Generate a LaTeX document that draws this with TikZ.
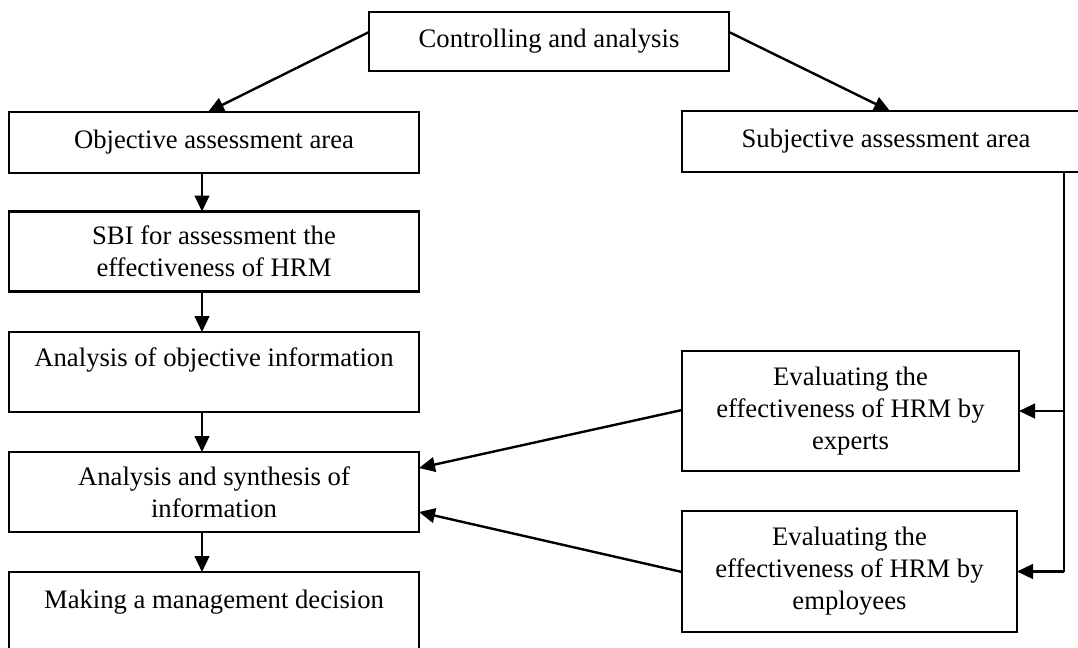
\documentclass[tikz,border=0pt]{standalone}
\usepackage{fontspec}
\setmainfont{Liberation Serif}
\usetikzlibrary{arrows.meta,calc}

\begin{document}
\begin{tikzpicture}[
  x=0.75pt, y=-0.75pt,
  font=\fontsize{20pt}{24pt}\selectfont,
  box/.style={draw=black, line width=1.8pt, inner sep=0pt, outer sep=0pt,
              align=center, fill=white},
  link/.style={line width=1.8pt, -{Triangle[length=12pt,width=11pt]}},
  busline/.style={line width=1.1pt}
]
\useasboundingbox (0,0) rectangle (1078,647);
\clip (0,0) rectangle (1078,647);

% top node
\node[box, minimum width=270pt, minimum height=44.25pt] (ctrl) at (549,41.5)
  {Controlling and analysis};

% left column
\node[box, minimum width=307.5pt, minimum height=45.75pt] (obj) at (214,142.5)
  {Objective assessment area};
\node[box, minimum width=307.5pt, minimum height=60pt] (sbi) at (214,251.5)
  {SBI for assessment the\\effectiveness of HRM};
\node[box, minimum width=307.5pt, minimum height=60pt] (aoi) at (214,372)
  {Analysis of objective information\\[-9pt]\strut};
\node[box, minimum width=307.5pt, minimum height=60pt] (syn) at (214,492)
  {Analysis and synthesis of\\information};
\node[box, minimum width=307.5pt, minimum height=72pt] (dec) at (214,620)
  {Making a management decision\\[0pt]\strut};

% right column
\node[box, minimum width=306pt, minimum height=45.75pt] (subj) at (886,141.5)
  {Subjective assessment area};
\node[box, minimum width=252.75pt, minimum height=90pt] (exp) at (850.5,411)
  {Evaluating the\\effectiveness of HRM by\\experts};
\node[box, minimum width=251.25pt, minimum height=90.75pt] (emp) at (849.5,571.5)
  {Evaluating the\\effectiveness of HRM by\\employees};

% branches from the top node
\draw[link] ($(ctrl.west)+(0,-9.5)$) -- ($(obj.north)+(-6,0)$);
\draw[link] ($(ctrl.east)+(0,-9.5)$) -- ($(subj.north)+(4,0)$);

% left column flow
\draw[link] ($(obj.south)+(-12,0)$) -- ($(sbi.north)+(-12,0)$);
\draw[link] ($(sbi.south)+(-12,0)$) -- ($(aoi.north)+(-12,0)$);
\draw[link] ($(aoi.south)+(-12,0)$) -- ($(syn.north)+(-12,0)$);
\draw[link] ($(syn.south)+(-12,0)$) -- ($(dec.north)+(-12,0)$);

% evaluations feed the synthesis
\draw[link] ($(exp.west)+(0,-1)$) -- ($(syn.east)+(0,-24)$);
\draw[link] ($(emp.west)+(0,0.5)$) -- ($(syn.east)+(0,20)$);

% bus from the subjective area to the two evaluations
\coordinate (bus) at (1064,0);
\draw[busline] (subj.south -| bus) -- (emp.east -| bus);
\draw[link] (exp.east -| bus) -- (exp.east);
\draw[link] (emp.east -| bus) -- (emp.east);
\end{tikzpicture}
\end{document}
